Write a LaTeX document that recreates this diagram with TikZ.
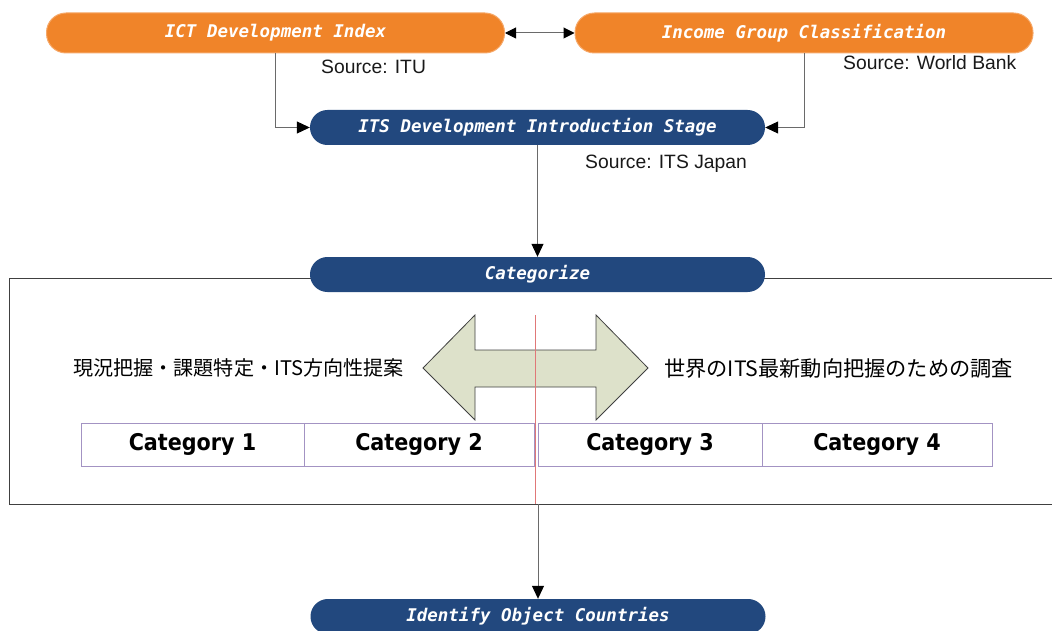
\documentclass[tikz,border=0pt]{standalone}
\usepackage{fontspec}
\setmainfont{Liberation Sans}
\newfontfamily\jpfont{Noto Sans CJK JP}
\newfontfamily\titlefont{DejaVu Sans Mono Bold Oblique}
\newfontfamily\catfont{DejaVu Sans Condensed Bold}
\usetikzlibrary{arrows.meta}
\definecolor{orfill}{HTML}{F08429}
\definecolor{ordraw}{HTML}{F6A868}
\definecolor{bluefill}{HTML}{22487E}
\definecolor{arrfill}{HTML}{DDE1CA}
\definecolor{arrline}{HTML}{404040}
\definecolor{catline}{HTML}{A393C3}
\definecolor{redline}{HTML}{E07878}
\definecolor{connc}{HTML}{6A6A6A}
\definecolor{framec}{HTML}{404040}
\tikzset{
  pillo/.style={fill=orfill, draw=ordraw, line width=1pt, rounded corners=19.5pt,
    minimum width=458pt, minimum height=40pt, inner sep=0pt, text=white,
    font=\titlefont\fontsize{17.5}{20}\selectfont},
  pillb/.style={fill=bluefill, draw=none, rounded corners=17.4pt,
    minimum width=455pt, minimum height=35pt, inner sep=0pt, text=white,
    font=\titlefont\fontsize{17.5}{20}\selectfont},
  catbox/.style={draw=catline, line width=1pt, minimum height=43pt, inner sep=0pt,
    font=\catfont\fontsize{23}{26}\selectfont},
  srclabel/.style={font=\fontsize{19.3}{22}\selectfont, inner sep=0pt, anchor=west, text=black!90},
  jptext/.style={font=\jpfont\fontsize{20.5}{24}\selectfont, inner sep=0pt, anchor=west},
  conn/.style={draw=connc, line width=1pt, -{Triangle[length=13pt, width=12pt, color=black]}},
  dconn/.style={draw=connc, line width=1pt, {Triangle[length=11pt, width=11pt, color=black]}-{Triangle[length=11pt, width=11pt, color=black]}},
  frameline/.style={draw=framec, line width=1pt},
}
\begin{document}
\begin{tikzpicture}[x=1pt, y=-1pt]
\useasboundingbox (0,0) rectangle (1052,631);
\clip (0,0) rectangle (1052,631);

% frame around categorize section
\coordinate (ftr) at (1060,278);
\coordinate (ftl) at (9,278);
\coordinate (fbl) at (9,504);
\coordinate (fbr) at (1060,504);
\coordinate (fb) at (538,504);
\draw[frameline] (ftr) -- (ftl) -- (fbl) -- (fbr);

% boxes
\node[pillo] (ict) at (275.5,33) {ICT Development Index};
\node[pillo] (inc) at (804,33) {Income Group Classification};
\node[pillb] (its) at (537.5,127.5) {ITS Development Introduction Stage};
\node[pillb] (cat) at (537.5,274.5) {Categorize};
\node[pillb] (idf) at (538,616.5) {Identify Object Countries};

% sources
\node[srclabel] (srcitu) at (321,66.5) {Source: ITU};
\node[srclabel] (srcwb) at (843,62.5) {Source: World Bank};
\node[srclabel] (srcits) at (585,164) {Source: ITS Japan};

% connectors
\draw[dconn] (ict.east) -- (inc.west);
\draw[conn] (ict.south) |- (its.west);
\draw[conn] (inc.south) |- (its.east);
\draw[conn] (its.south) -- (cat.north);
\draw[conn] (fb) -- (idf.north);

% double block arrow
\draw[fill=arrfill, draw=arrline, line width=0.8pt]
  (423,368) -- (475,315) -- (475,350) -- (596,350) -- (596,315) -- (648,368)
  -- (596,420) -- (596,387) -- (475,387) -- (475,420) -- cycle;

% red divider
\coordinate (rtop) at (535,315);
\coordinate (rbot) at (535,504);
\draw[redline, line width=0.8pt] (rtop) -- (rbot);

% japanese texts
\node[jptext, font=\jpfont\fontsize{20.1}{24}\selectfont] (jpl) at (73,368) {現況把握・課題特定・ITS方向性提案};
\node[jptext, font=\jpfont\fontsize{21.2}{24}\selectfont] (jpr) at (664,368) {世界のITS最新動向把握のための調査};

% categories
\node[catbox, minimum width=223pt] (c1) at (192.5,444.5) {Category 1};
\node[catbox, minimum width=230pt] (c2) at (419,444.5) {Category 2};
\node[catbox, minimum width=224pt] (c3) at (650,444.5) {Category 3};
\node[catbox, minimum width=230pt] (c4) at (877,444.5) {Category 4};
\end{tikzpicture}
\end{document}
